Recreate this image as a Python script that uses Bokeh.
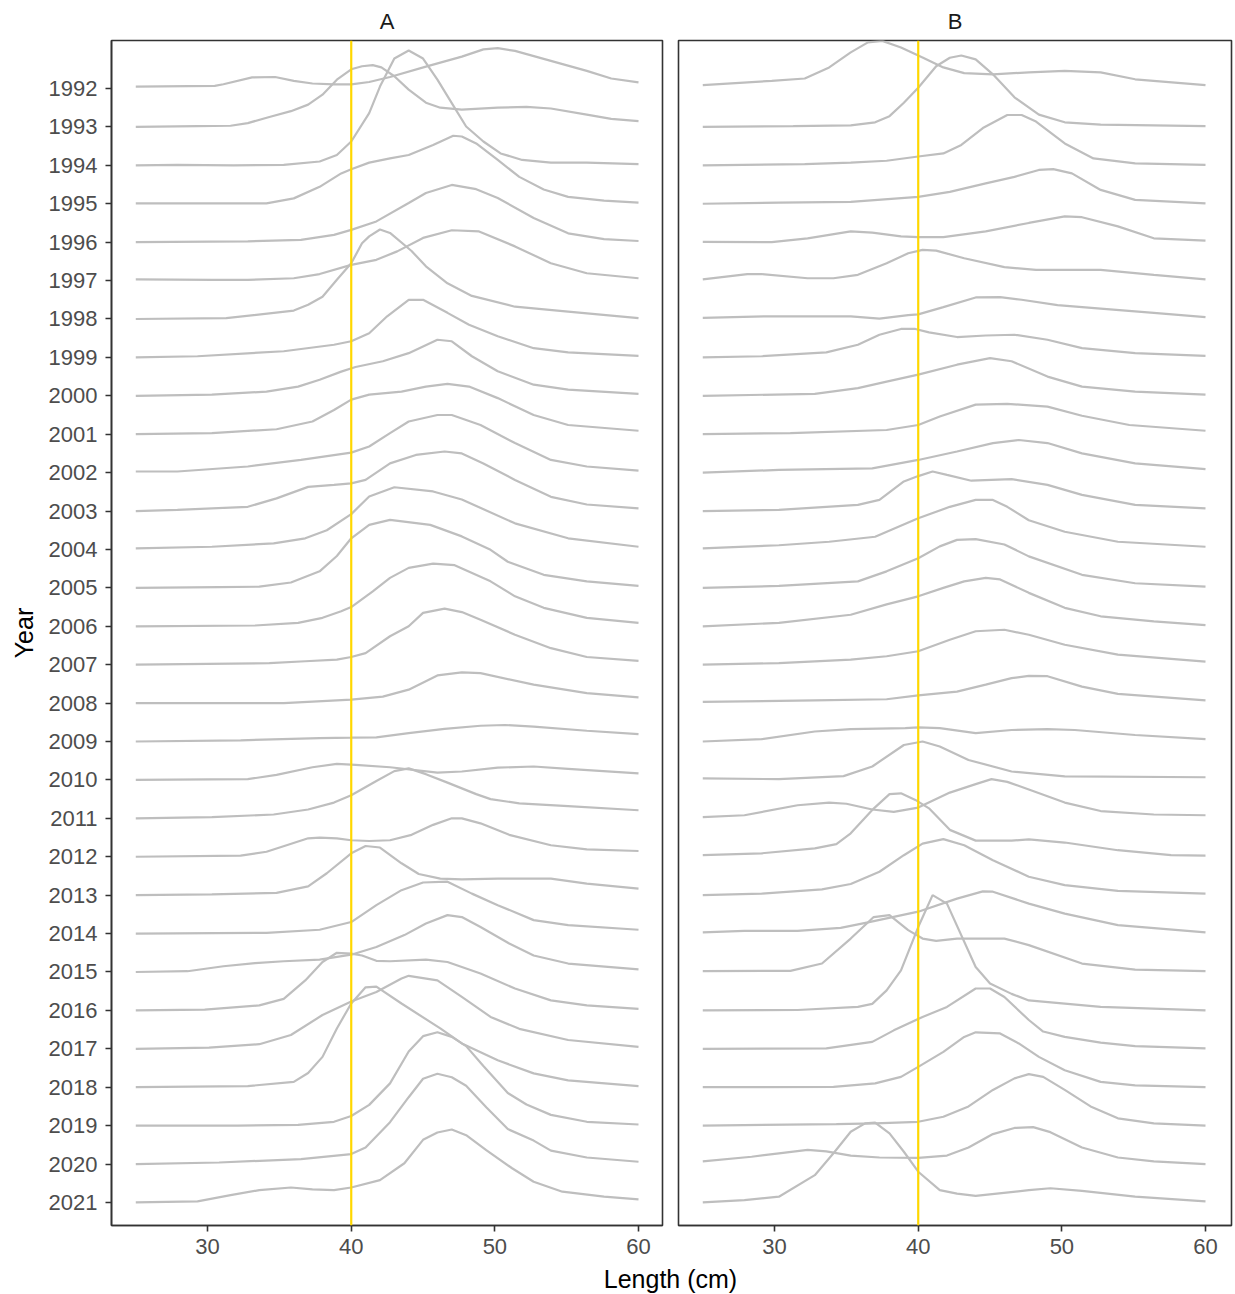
from bokeh.plotting import figure
from bokeh.layouts import column, row
from bokeh.models import Range1d, FixedTicker, Span
from bokeh.embed import file_html
from bokeh.resources import INLINE
from bokeh.core.properties import value

YEARS = list(range(1992, 2022))
X_TICKS = [30, 40, 50, 60]
REFERENCE_LENGTH = 40
PANEL_NAMES = ["A", "B"]
X_LABEL = "Length (cm)"
Y_LABEL = "Year"

# Ridge heights (in units of the spacing between two years), read at lengths in cm
RIDGES_A = {
    1992: [(25, 0.05), (30.5, 0.07), (31.1, 0.11), (33.1, 0.29), (34.7, 0.30), (36.0, 0.20), (37.3, 0.13), (38.8, 0.11), (40.0, 0.11), (41.25, 0.17), (42.7, 0.30), (45.2, 0.57), (47.7, 0.83), (49.2, 1.02), (50.2, 1.05), (51.4, 0.98), (53.9, 0.72), (56.4, 0.46), (58.1, 0.26), (60, 0.16)],
    1993: [(25, 0), (29.3, 0.02), (31.6, 0.03), (32.8, 0.10), (34.3, 0.26), (35.8, 0.41), (37.0, 0.58), (38.0, 0.84), (39.0, 1.23), (40.0, 1.50), (40.75, 1.58), (41.5, 1.61), (42.1, 1.55), (43.0, 1.32), (44.0, 0.97), (45.2, 0.63), (46.2, 0.50), (47.7, 0.45), (50.2, 0.50), (52.2, 0.52), (53.9, 0.48), (56.4, 0.32), (58.1, 0.21), (60, 0.15)],
    1994: [(25, 0), (27.9, 0.01), (31.8, 0), (35.3, 0.01), (37.8, 0.10), (39.0, 0.27), (40.0, 0.62), (41.25, 1.36), (42.0, 2.05), (43.0, 2.78), (44.0, 2.99), (45.0, 2.78), (46.0, 2.23), (47.0, 1.62), (48.0, 1.01), (49.2, 0.62), (50.4, 0.31), (51.9, 0.14), (53.9, 0.07), (56.4, 0.07), (60, 0.03)],
    1995: [(25, 0.01), (34.1, 0.01), (36.0, 0.14), (37.8, 0.44), (39.3, 0.79), (40.0, 0.90), (41.25, 1.07), (42.7, 1.18), (44.0, 1.27), (45.7, 1.53), (47.1, 1.77), (47.7, 1.75), (48.7, 1.57), (50.2, 1.14), (51.7, 0.70), (53.4, 0.37), (55.1, 0.18), (57.6, 0.08), (60, 0.03)],
    1996: [(25, 0), (32.8, 0.02), (36.5, 0.06), (38.8, 0.19), (40.0, 0.32), (41.75, 0.54), (44.0, 1.02), (45.2, 1.28), (47.0, 1.49), (48.7, 1.38), (50.2, 1.15), (52.7, 0.63), (55.1, 0.23), (57.6, 0.08), (60, 0.03)],
    1997: [(25, 0.03), (30.3, 0.02), (32.8, 0.02), (36.0, 0.06), (37.8, 0.17), (40.0, 0.41), (41.75, 0.54), (43.2, 0.76), (45.0, 1.11), (47.0, 1.31), (48.9, 1.28), (51.4, 0.89), (53.9, 0.45), (56.4, 0.19), (60, 0.06)],
    1998: [(25, 0), (31.3, 0.02), (36.0, 0.22), (37.0, 0.37), (38.0, 0.58), (39.0, 1.02), (40.0, 1.45), (40.75, 1.97), (41.25, 2.15), (42.0, 2.33), (42.7, 2.24), (44.2, 1.77), (45.2, 1.37), (46.7, 0.93), (48.4, 0.60), (51.4, 0.32), (55.1, 0.19), (60, 0.02)],
    1999: [(25, 0), (29.3, 0.03), (35.3, 0.16), (38.8, 0.33), (40.0, 0.42), (41.25, 0.63), (42.5, 1.07), (44.0, 1.50), (45.0, 1.50), (46.7, 1.16), (48.2, 0.85), (50.2, 0.55), (52.7, 0.24), (55.1, 0.13), (60, 0.04)],
    2000: [(25, 0), (30.3, 0.03), (34.1, 0.11), (36.3, 0.24), (37.8, 0.42), (39.3, 0.63), (40.3, 0.75), (42.2, 0.90), (44.0, 1.11), (46.0, 1.46), (47.0, 1.42), (48.4, 1.03), (50.2, 0.64), (52.7, 0.29), (55.1, 0.16), (60, 0.05)],
    2001: [(25, 0), (30.3, 0.03), (34.8, 0.13), (37.3, 0.33), (38.8, 0.63), (40.0, 0.90), (41.25, 1.03), (43.5, 1.11), (45.2, 1.24), (46.7, 1.31), (48.2, 1.24), (50.2, 0.94), (52.7, 0.50), (55.1, 0.24), (60, 0.09)],
    2002: [(25, 0.03), (27.9, 0.03), (32.8, 0.16), (36.5, 0.33), (40.0, 0.52), (41.25, 0.68), (42.7, 1.03), (44.0, 1.33), (46.0, 1.50), (47.0, 1.50), (49.0, 1.24), (51.4, 0.77), (53.9, 0.33), (56.4, 0.16), (60, 0.05)],
    2003: [(25, 0), (27.9, 0.03), (32.8, 0.11), (34.8, 0.33), (37.0, 0.63), (38.8, 0.68), (40.0, 0.72), (41.0, 0.81), (42.7, 1.24), (44.5, 1.46), (46.5, 1.55), (47.7, 1.50), (49.2, 1.24), (51.4, 0.81), (53.9, 0.37), (56.4, 0.17), (60, 0.07)],
    2004: [(25, 0.03), (30.3, 0.07), (34.6, 0.16), (36.8, 0.29), (38.3, 0.50), (40.0, 0.92), (41.25, 1.38), (43.0, 1.62), (45.7, 1.51), (47.7, 1.30), (51.4, 0.68), (55.1, 0.29), (60, 0.07)],
    2005: [(25, 0), (30.8, 0.02), (33.6, 0.03), (35.8, 0.14), (37.8, 0.43), (39.0, 0.83), (40.0, 1.29), (41.25, 1.64), (42.7, 1.77), (45.5, 1.64), (47.7, 1.34), (49.7, 0.99), (50.9, 0.68), (53.4, 0.34), (56.4, 0.17), (60, 0.05)],
    2006: [(25, 0), (33.3, 0.02), (36.3, 0.09), (38.0, 0.22), (39.3, 0.39), (40.0, 0.50), (41.5, 0.91), (42.7, 1.26), (44.0, 1.52), (45.7, 1.63), (47.2, 1.59), (49.7, 1.17), (51.4, 0.78), (53.4, 0.48), (56.4, 0.22), (60, 0.09)],
    2007: [(25, 0), (34.3, 0.04), (36.8, 0.09), (39.0, 0.13), (40.0, 0.20), (41.0, 0.30), (42.7, 0.74), (44.0, 1.00), (45.0, 1.35), (46.5, 1.46), (47.7, 1.37), (49.0, 1.17), (51.4, 0.78), (53.9, 0.43), (56.4, 0.20), (60, 0.10)],
    2008: [(25, 0), (35.3, 0), (40.0, 0.09), (42.2, 0.17), (44.0, 0.35), (46.0, 0.72), (47.7, 0.80), (49.0, 0.78), (52.7, 0.48), (56.4, 0.26), (60, 0.15)],
    2009: [(25, 0), (32.3, 0.03), (37.8, 0.09), (40.0, 0.10), (41.75, 0.11), (44.0, 0.22), (46.5, 0.33), (49.0, 0.41), (50.7, 0.43), (52.7, 0.39), (56.4, 0.28), (60, 0.19)],
    2010: [(25, 0), (32.8, 0.02), (34.8, 0.13), (37.3, 0.33), (39.0, 0.42), (40.3, 0.39), (42.7, 0.33), (46.0, 0.19), (47.7, 0.22), (50.2, 0.32), (52.7, 0.35), (55.1, 0.29), (60, 0.17)],
    2011: [(25, 0), (30.3, 0.03), (34.6, 0.10), (37.0, 0.23), (38.8, 0.41), (40.0, 0.60), (41.75, 0.97), (43.0, 1.23), (44.0, 1.30), (45.2, 1.15), (46.7, 0.93), (48.7, 0.63), (49.7, 0.50), (51.7, 0.39), (55.1, 0.32), (60, 0.21)],
    2012: [(25, 0), (32.3, 0.03), (34.1, 0.13), (35.5, 0.30), (37.0, 0.48), (37.8, 0.50), (39.0, 0.48), (40.0, 0.43), (41.25, 0.41), (42.7, 0.43), (44.2, 0.57), (45.7, 0.83), (47.0, 1.00), (47.7, 1.00), (49.0, 0.87), (51.0, 0.57), (53.9, 0.30), (56.4, 0.19), (60, 0.15)],
    2013: [(25, 0), (30.3, 0.02), (34.8, 0.06), (37.0, 0.23), (38.3, 0.57), (40.0, 1.09), (41.0, 1.28), (42.0, 1.24), (43.5, 0.83), (44.7, 0.55), (46.2, 0.43), (47.7, 0.41), (50.2, 0.43), (53.9, 0.43), (56.4, 0.30), (60, 0.17)],
    2014: [(25, 0), (34.1, 0.02), (37.8, 0.10), (40.0, 0.30), (41.75, 0.74), (43.5, 1.13), (45.0, 1.33), (46.7, 1.35), (48.4, 1.04), (50.2, 0.74), (52.7, 0.35), (55.1, 0.22), (60, 0.10)],
    2015: [(25, 0), (28.6, 0.02), (31.1, 0.15), (33.3, 0.23), (35.3, 0.28), (37.8, 0.32), (40.0, 0.45), (41.75, 0.65), (43.7, 0.96), (45.2, 1.26), (46.7, 1.48), (47.7, 1.43), (49.0, 1.17), (51.0, 0.74), (52.7, 0.43), (55.1, 0.22), (60, 0.07)],
    2016: [(25, 0), (29.8, 0.02), (33.6, 0.13), (35.3, 0.30), (36.8, 0.78), (38.0, 1.26), (39.0, 1.50), (40.0, 1.48), (40.75, 1.43), (41.75, 1.29), (42.7, 1.28), (45.2, 1.32), (46.7, 1.26), (49.0, 0.96), (51.4, 0.57), (53.9, 0.26), (56.4, 0.13), (60, 0.04)],
    2017: [(25, 0), (30.1, 0.03), (33.6, 0.12), (35.8, 0.36), (38.0, 0.88), (40.0, 1.23), (41.75, 1.48), (43.5, 1.83), (44.0, 1.90), (46.0, 1.78), (47.7, 1.35), (49.7, 0.83), (51.7, 0.52), (55.1, 0.23), (60, 0.05)],
    2018: [(25, 0), (32.8, 0.03), (36.0, 0.14), (37.0, 0.37), (38.0, 0.79), (39.0, 1.53), (40.0, 2.18), (41.0, 2.60), (41.75, 2.62), (43.5, 2.18), (46.2, 1.53), (47.7, 1.14), (50.2, 0.70), (52.7, 0.36), (55.1, 0.18), (60, 0.03)],
    2019: [(25, 0), (32.1, 0), (36.3, 0.02), (38.8, 0.10), (40.0, 0.25), (41.25, 0.54), (42.7, 1.10), (44.0, 1.93), (45.0, 2.33), (46.0, 2.43), (47.0, 2.31), (48.0, 2.07), (49.2, 1.55), (50.9, 0.85), (52.2, 0.55), (53.9, 0.28), (56.4, 0.10), (60, 0.03)],
    2020: [(25, 0), (30.8, 0.04), (36.5, 0.13), (40.0, 0.26), (41.0, 0.43), (42.7, 1.09), (44.0, 1.74), (45.0, 2.22), (46.0, 2.35), (47.0, 2.26), (48.0, 2.04), (49.4, 1.48), (50.9, 0.91), (52.7, 0.61), (53.9, 0.35), (56.4, 0.17), (60, 0.06)],
    2021: [(25, 0), (29.3, 0.03), (31.6, 0.19), (33.6, 0.32), (35.8, 0.39), (37.3, 0.34), (38.8, 0.32), (40.0, 0.39), (42.0, 0.58), (43.7, 1.02), (45.0, 1.63), (46.0, 1.82), (47.0, 1.90), (48.0, 1.75), (49.4, 1.36), (51.2, 0.89), (52.7, 0.54), (54.7, 0.28), (57.6, 0.15), (60, 0.08)],
}

RIDGES_B = {
    1992: [(25, 0.09), (29.8, 0.20), (32.1, 0.26), (33.8, 0.55), (35.3, 0.94), (36.5, 1.20), (37.5, 1.24), (38.8, 1.07), (40.3, 0.81), (41.75, 0.55), (43.2, 0.40), (45.2, 0.37), (47.7, 0.42), (50.2, 0.46), (52.7, 0.42), (55.1, 0.24), (60, 0.09)],
    1993: [(25, 0), (31.3, 0.02), (35.3, 0.04), (37.0, 0.12), (38.0, 0.28), (39.0, 0.63), (40.0, 1.02), (41.25, 1.58), (42.2, 1.80), (43.0, 1.86), (44.0, 1.76), (45.2, 1.37), (46.7, 0.77), (48.4, 0.32), (50.2, 0.12), (52.7, 0.06), (60, 0.02)],
    1994: [(25, 0), (32.1, 0.03), (35.3, 0.07), (37.8, 0.12), (40.0, 0.23), (41.75, 0.31), (43.0, 0.53), (44.5, 0.97), (46.2, 1.31), (47.2, 1.31), (48.2, 1.14), (50.2, 0.57), (52.2, 0.18), (55.1, 0.05), (60, 0.01)],
    1995: [(25, 0), (30.3, 0.03), (35.3, 0.05), (40.0, 0.18), (42.2, 0.31), (44.7, 0.53), (46.7, 0.70), (48.4, 0.88), (49.4, 0.90), (50.7, 0.79), (52.7, 0.36), (55.1, 0.10), (60, 0.01)],
    1996: [(25, 0.01), (29.8, 0), (32.3, 0.10), (35.3, 0.28), (36.8, 0.25), (38.8, 0.15), (40.0, 0.13), (41.75, 0.13), (44.7, 0.28), (47.7, 0.50), (50.2, 0.67), (51.4, 0.65), (53.9, 0.41), (56.4, 0.10), (60, 0.04)],
    1997: [(25, 0.03), (28.1, 0.17), (29.1, 0.17), (32.3, 0.06), (34.1, 0.06), (35.8, 0.15), (37.8, 0.45), (39.3, 0.71), (40.3, 0.80), (41.25, 0.78), (43.2, 0.58), (46.0, 0.35), (48.2, 0.28), (52.7, 0.28), (56.4, 0.15), (60, 0.03)],
    1998: [(25, 0.03), (29.6, 0.07), (35.3, 0.07), (37.3, 0.01), (39.3, 0.10), (40.0, 0.12), (41.75, 0.31), (44.0, 0.56), (45.7, 0.57), (47.2, 0.50), (49.7, 0.36), (52.7, 0.27), (56.4, 0.16), (60, 0.05)],
    1999: [(25, 0), (29.1, 0.03), (33.6, 0.13), (35.8, 0.33), (37.3, 0.59), (38.8, 0.74), (39.8, 0.74), (40.75, 0.65), (42.7, 0.53), (44.7, 0.57), (46.7, 0.59), (49.0, 0.46), (51.4, 0.24), (55.1, 0.11), (60, 0.04)],
    2000: [(25, 0), (32.8, 0.05), (35.8, 0.20), (37.8, 0.37), (40.0, 0.55), (42.7, 0.81), (45.0, 0.98), (46.5, 0.90), (49.0, 0.50), (51.4, 0.24), (55.1, 0.11), (60, 0.03)],
    2001: [(25, 0), (31.1, 0.03), (37.8, 0.11), (40.0, 0.24), (41.5, 0.46), (44.0, 0.77), (46.2, 0.79), (49.0, 0.72), (51.4, 0.48), (54.7, 0.24), (60, 0.09)],
    2002: [(25, 0), (30.3, 0.07), (36.8, 0.11), (40.0, 0.33), (42.7, 0.55), (45.2, 0.77), (47.0, 0.85), (49.0, 0.77), (51.4, 0.50), (55.1, 0.24), (60, 0.09)],
    2003: [(25, 0), (30.3, 0.03), (35.8, 0.16), (37.3, 0.29), (39.0, 0.77), (40.0, 0.91), (41.0, 1.03), (42.0, 0.94), (43.7, 0.79), (46.5, 0.83), (49.0, 0.68), (51.4, 0.42), (55.1, 0.16), (60, 0.07)],
    2004: [(25, 0.03), (30.3, 0.11), (33.8, 0.20), (37.0, 0.33), (40.0, 0.81), (42.2, 1.11), (44.0, 1.29), (45.2, 1.29), (46.2, 1.11), (47.7, 0.76), (50.2, 0.46), (53.9, 0.20), (60, 0.07)],
    2005: [(25, 0), (30.3, 0.05), (35.8, 0.17), (37.8, 0.43), (40.0, 0.77), (41.5, 1.08), (42.7, 1.25), (44.0, 1.27), (46.0, 1.13), (47.7, 0.82), (51.4, 0.34), (55.1, 0.12), (60, 0.03)],
    2006: [(25, 0), (30.3, 0.09), (35.3, 0.30), (37.8, 0.57), (40.0, 0.78), (41.75, 1.00), (43.2, 1.17), (44.7, 1.26), (45.7, 1.22), (47.7, 0.87), (50.2, 0.48), (52.7, 0.26), (56.4, 0.13), (60, 0.03)],
    2007: [(25, 0), (30.3, 0.04), (35.3, 0.13), (37.8, 0.22), (40.0, 0.35), (42.2, 0.65), (44.0, 0.87), (46.0, 0.91), (47.7, 0.78), (50.2, 0.52), (53.9, 0.26), (60, 0.08)],
    2008: [(25, 0.03), (32.8, 0.07), (37.8, 0.10), (40.0, 0.20), (42.7, 0.30), (44.7, 0.48), (46.5, 0.65), (47.7, 0.71), (49.0, 0.70), (51.4, 0.43), (53.9, 0.24), (60, 0.07)],
    2009: [(25, 0), (29.1, 0.06), (32.8, 0.26), (35.3, 0.32), (39.1, 0.35), (40.0, 0.37), (41.5, 0.35), (44.0, 0.22), (46.5, 0.30), (49.0, 0.32), (50.9, 0.30), (55.1, 0.17), (60, 0.06)],
    2010: [(25, 0.04), (30.3, 0.02), (34.8, 0.10), (36.8, 0.35), (39.0, 0.91), (40.3, 1.00), (41.5, 0.87), (43.5, 0.52), (46.5, 0.22), (50.2, 0.09), (60, 0.07)],
    2011: [(25, 0.03), (27.9, 0.08), (31.6, 0.34), (33.8, 0.41), (35.0, 0.38), (36.8, 0.23), (38.3, 0.17), (40.0, 0.28), (42.2, 0.67), (44.0, 0.89), (45.1, 1.02), (46.2, 0.95), (47.7, 0.75), (50.2, 0.41), (52.7, 0.19), (56.4, 0.10), (60, 0.08)],
    2012: [(25, 0.04), (29.1, 0.09), (32.8, 0.22), (34.3, 0.33), (35.3, 0.61), (36.8, 1.22), (38.0, 1.63), (38.8, 1.65), (39.8, 1.48), (40.75, 1.26), (42.2, 0.70), (44.0, 0.42), (46.5, 0.42), (47.7, 0.45), (50.2, 0.37), (53.9, 0.17), (57.6, 0.04), (60, 0.03)],
    2013: [(25, 0), (29.1, 0.04), (33.3, 0.15), (35.3, 0.29), (37.3, 0.61), (39.0, 1.04), (40.3, 1.34), (41.75, 1.46), (43.2, 1.30), (45.2, 0.91), (47.7, 0.48), (50.2, 0.26), (53.9, 0.11), (60, 0.04)],
    2014: [(25, 0.03), (27.9, 0.07), (31.6, 0.07), (34.6, 0.15), (36.5, 0.29), (40.0, 0.57), (42.7, 0.91), (44.5, 1.10), (45.2, 1.09), (47.7, 0.78), (50.2, 0.52), (53.9, 0.22), (60, 0.03)],
    2015: [(25, 0.02), (31.1, 0.03), (33.3, 0.22), (35.3, 0.87), (36.9, 1.43), (38.0, 1.48), (39.3, 1.09), (40.3, 0.87), (41.25, 0.81), (42.7, 0.87), (46.0, 0.87), (47.7, 0.70), (51.4, 0.22), (55.1, 0.06), (60, 0.02)],
    2016: [(25, 0), (31.6, 0.01), (35.8, 0.09), (36.8, 0.17), (37.8, 0.52), (38.8, 1.04), (40.0, 2.17), (41.0, 3.00), (42.0, 2.78), (44.0, 1.13), (45.0, 0.70), (46.5, 0.43), (47.7, 0.26), (52.7, 0.09), (60, 0)],
    2017: [(25, 0), (33.6, 0.01), (36.8, 0.18), (38.3, 0.48), (40.3, 0.83), (42.0, 1.09), (44.0, 1.57), (45.0, 1.57), (46.0, 1.35), (47.7, 0.75), (48.7, 0.45), (50.2, 0.31), (52.7, 0.16), (55.1, 0.07), (60, 0.01)],
    2018: [(25, 0), (34.1, 0.01), (37.0, 0.10), (38.8, 0.27), (40.0, 0.53), (41.75, 0.92), (43.2, 1.31), (44.0, 1.43), (45.7, 1.40), (47.0, 1.14), (48.4, 0.79), (50.2, 0.44), (52.7, 0.14), (55.1, 0.05), (60, 0)],
    2019: [(25, 0), (34.3, 0.04), (37.0, 0.06), (40.0, 0.10), (41.75, 0.23), (43.5, 0.50), (45.2, 0.93), (46.7, 1.23), (47.7, 1.34), (48.7, 1.27), (50.2, 0.93), (52.0, 0.50), (53.9, 0.19), (56.4, 0.06), (60, 0)],
    2020: [(25, 0.07), (28.4, 0.19), (30.3, 0.28), (32.3, 0.37), (33.6, 0.33), (35.3, 0.22), (37.3, 0.17), (40.0, 0.16), (42.0, 0.22), (43.5, 0.43), (45.2, 0.78), (46.7, 0.94), (48.0, 0.96), (49.2, 0.83), (51.4, 0.43), (53.9, 0.17), (56.4, 0.07), (60, 0)],
    2021: [(25, 0), (27.9, 0.06), (30.3, 0.15), (32.8, 0.71), (34.1, 1.28), (35.3, 1.84), (36.3, 2.06), (37.0, 2.08), (38.0, 1.80), (39.0, 1.32), (40.0, 0.80), (41.5, 0.32), (42.7, 0.23), (44.0, 0.17), (47.7, 0.32), (49.2, 0.37), (51.4, 0.30), (55.1, 0.15), (60, 0.03)],
}

FONT = "Liberation Sans"
LINE_GREY = "#BEBEBE"
GOLD = "#FFD700"
FRAME = "#333333"
TICK_TEXT = "#4D4D4D"

Y_RANGE = (2021.6, 1990.75)   # reversed: 1992 at the top


def make_panel(name, ridges, width, x_end, left, right, show_y):
    p = figure(width=width, height=1261,
               x_range=Range1d(23.31, x_end),
               y_range=Range1d(*Y_RANGE),
               output_backend="svg", toolbar_location=None,
               min_border_left=left, min_border_right=right,
               min_border_top=40, min_border_bottom=36)
    p.background_fill_color = "white"
    p.border_fill_color = "white"
    p.outline_line_color = FRAME
    p.outline_line_width = 1.6
    p.grid.visible = False

    p.title.text = name
    p.title.align = "center"
    p.title.text_font = FONT
    p.title.text_font_size = "22px"
    p.title.text_font_style = "normal"
    p.title.text_color = "#1A1A1A"
    p.title.standoff = 13

    for yr, pts in ridges.items():
        xs = [pt[0] for pt in pts]
        ys = [yr - pt[1] for pt in pts]
        p.line(xs, ys, line_color=LINE_GREY, line_width=2.2)

    p.add_layout(Span(location=REFERENCE_LENGTH, dimension="height",
                      line_color=GOLD, line_width=2.2))

    xa = p.xaxis[0]
    xa.ticker = FixedTicker(ticks=X_TICKS)
    xa.major_label_text_font = FONT
    xa.major_label_text_font_size = "22px"
    xa.major_label_text_color = TICK_TEXT
    xa.major_tick_line_color = FRAME
    xa.major_tick_line_width = 1.6
    xa.major_tick_out = 6
    xa.major_tick_in = 0
    xa.minor_tick_line_color = None
    xa.axis_line_color = FRAME
    xa.axis_line_width = 1.6
    xa.major_label_standoff = 7

    ya = p.yaxis[0]
    if show_y:
        ya.ticker = FixedTicker(ticks=YEARS)
        ya.major_label_overrides = {y: str(y) for y in YEARS}
        ya.major_label_text_font = FONT
        ya.major_label_text_font_size = "22px"
        ya.major_label_text_color = TICK_TEXT
        ya.major_tick_line_color = FRAME
        ya.major_tick_line_width = 1.6
        ya.major_tick_out = 6
        ya.major_tick_in = 0
        ya.minor_tick_line_color = None
        ya.axis_line_color = FRAME
        ya.axis_line_width = 1.6
        ya.major_label_standoff = 8
        ya.axis_label = Y_LABEL
        ya.axis_label_text_font = FONT
        ya.axis_label_text_font_size = "25px"
        ya.axis_label_text_font_style = "normal"
        ya.axis_label_text_color = "black"
        ya.axis_label_standoff = 8
    else:
        ya.visible = False
    return p


pa = make_panel(PANEL_NAMES[0], RIDGES_A, 670, 61.67, 111, 8, True)
pb = make_panel(PANEL_NAMES[1], RIDGES_B, 565, 61.81, 8, 4, False)

# x-axis title shared by both panels
pt = figure(width=1235, height=32, x_range=Range1d(0, 1235), y_range=Range1d(0, 32),
            output_backend="svg", toolbar_location=None,
            x_axis_type=None, y_axis_type=None,
            min_border_left=0, min_border_right=0, min_border_top=0, min_border_bottom=0)
pt.outline_line_color = None
pt.grid.visible = False
pt.text(x=[670], y=[15], text=[X_LABEL], text_align="center", text_baseline="middle",
        text_font=value(FONT), text_font_size="25px", text_color="black")

layout = column(row(pa, pb), pt)

with open("out.html", "w") as f:
    f.write(file_html(layout, INLINE))
